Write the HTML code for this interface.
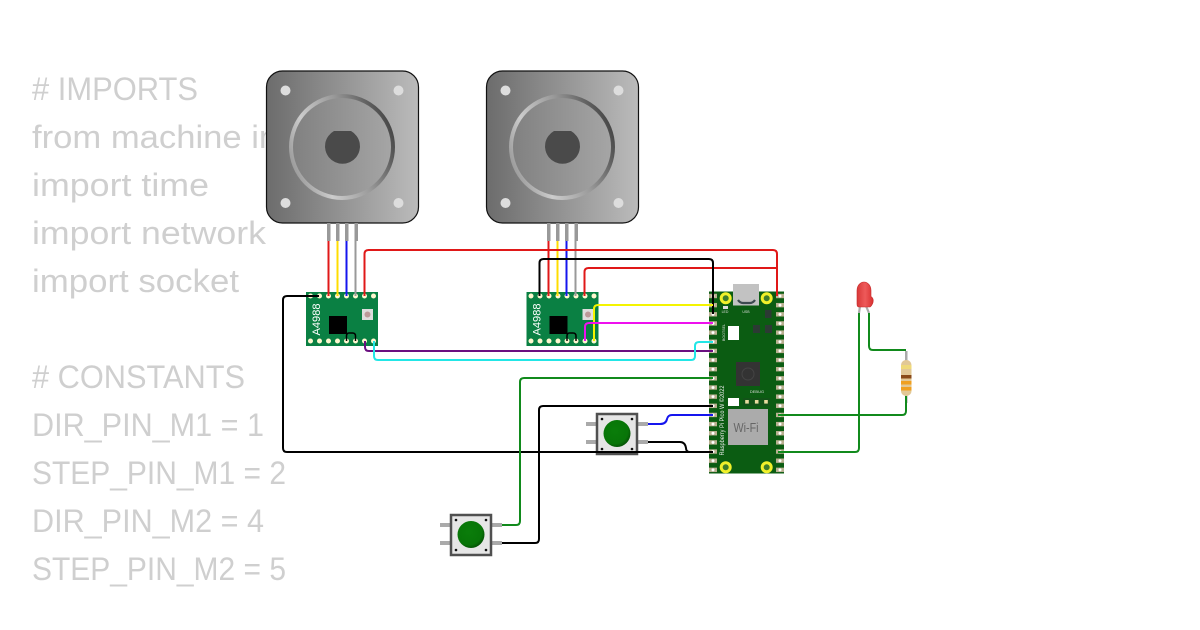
<!DOCTYPE html>
<html><head><meta charset="utf-8"><style>html,body{margin:0;padding:0;background:#fff}svg{display:block}</style></head><body>
<svg xmlns="http://www.w3.org/2000/svg" width="1200" height="630" viewBox="0 0 1200 630">
<defs>
<linearGradient id="mb" x1="0" x2="1" y1="0" y2="0"><stop offset="0" stop-color="#6c6c6c"/><stop offset="1" stop-color="#bbb"/></linearGradient>
<linearGradient id="ring" x1="0" x2="1" y1="0.7" y2="0.3"><stop offset="0" stop-color="#999"/><stop offset=".25" stop-color="#ccc"/><stop offset=".6" stop-color="#999"/><stop offset="1" stop-color="#444"/></linearGradient>
<linearGradient id="inner" x1="0" x2="1"><stop offset="0" stop-color="#808080"/><stop offset="1" stop-color="#a6a6a6"/></linearGradient>
<radialGradient id="btn" cx=".42" cy=".4" r=".62"><stop offset="0" stop-color="#0a7d0a"/><stop offset=".78" stop-color="#087508"/><stop offset="1" stop-color="#055205"/></radialGradient>
<linearGradient id="led" x1="0" x2="1"><stop offset="0" stop-color="#d83838"/><stop offset=".5" stop-color="#ee5a5a"/><stop offset="1" stop-color="#d83030"/></linearGradient>
<pattern id="padL" patternUnits="userSpaceOnUse" x="709" y="291.400" width="9" height="9.150"><rect x="0" y="2.400" width="8" height="4.400" fill="#b9b090"/><circle cx="4" cy="4.600" r="1.500" fill="#fff"/></pattern>
<pattern id="padR" patternUnits="userSpaceOnUse" x="775" y="291.400" width="9" height="9.150"><rect x="1" y="2.400" width="8" height="4.400" fill="#b9b090"/><circle cx="5" cy="4.600" r="1.500" fill="#fff"/></pattern>
<g id="motor">
<rect x="266.500" y="71" width="152" height="152" rx="16" fill="url(#mb)" stroke="#111" stroke-width="1.200"/>
<circle cx="285.500" cy="90.500" r="5" fill="#ddd"/><circle cx="398.500" cy="90.500" r="5" fill="#ddd"/>
<circle cx="285.500" cy="203" r="5" fill="#ddd"/><circle cx="398.500" cy="203" r="5" fill="#ddd"/>
<circle cx="342" cy="147" r="51" fill="url(#inner)" stroke="url(#ring)" stroke-width="4"/>
<path d="M334 131H351A17.500 17.500 0 1 1 334 131Z" fill="#4a4a4a"/>
<g fill="#999"><rect x="327" y="223" width="3.500" height="18"/><rect x="336" y="223" width="3.500" height="18"/><rect x="345" y="223" width="3.500" height="18"/><rect x="354.500" y="223" width="3.500" height="18"/></g>
</g>
<g id="drv">
<rect x="306" y="292" width="72" height="54" fill="#0a8043"/>
<g fill="#fff7cf"><circle cx="310.500" cy="296" r="2.500"/><circle cx="319.500" cy="296" r="2.500"/><circle cx="328.500" cy="296" r="2.500"/><circle cx="337.500" cy="296" r="2.500"/><circle cx="346.500" cy="296" r="2.500"/><circle cx="355.500" cy="296" r="2.500"/><circle cx="364.500" cy="296" r="2.500"/><circle cx="373.500" cy="296" r="2.500"/>
<circle cx="310.500" cy="341" r="2.500"/><circle cx="319.500" cy="341" r="2.500"/><circle cx="328.500" cy="341" r="2.500"/><circle cx="337.500" cy="341" r="2.500"/><circle cx="346.500" cy="341" r="2.500"/><circle cx="355.500" cy="341" r="2.500"/><circle cx="364.500" cy="341" r="2.500"/><circle cx="373.500" cy="341" r="2.500"/></g>
<rect x="329" y="316" width="18" height="18" fill="#000"/>
<rect x="362" y="309" width="11" height="11" fill="#ddd"/><circle cx="367.500" cy="314.500" r="3" fill="#b99"/>
<text transform="translate(320 335.500) rotate(-90)" font-family="'Liberation Sans',sans-serif" font-size="11" fill="#fff" textLength="32" lengthAdjust="spacingAndGlyphs">A4988</text>
<path d="M346.500 341V336Q346.500 333 349 333H352.500Q355.500 333 355.500 336V341" fill="none" stroke="#000" stroke-width="1.500"/>
</g>
<g id="btnp">
<g fill="#aaa"><rect x="586" y="422" width="10" height="4"/><rect x="586" y="440" width="10" height="4"/><rect x="638" y="422" width="10" height="4"/><rect x="638" y="440" width="10" height="4"/></g>
<rect x="597" y="414" width="40" height="40" fill="#e6e6e6" stroke="#505050" stroke-width="2.500"/>
<g fill="#111"><circle cx="602" cy="419" r="1.300"/><circle cx="632" cy="419" r="1.300"/><circle cx="602" cy="449" r="1.300"/><circle cx="632" cy="449" r="1.300"/></g>
<circle cx="617" cy="433.500" r="13.500" fill="url(#btn)"/>
</g>
</defs>

<g font-family="'Liberation Sans',sans-serif" font-size="32" fill="#cfcfcf" lengthAdjust="spacingAndGlyphs">
<text x="32" y="100" textLength="166" lengthAdjust="spacingAndGlyphs">#&#160;IMPORTS</text>
<text x="32" y="148" textLength="375" lengthAdjust="spacingAndGlyphs">from machine import Pin</text>
<text x="32" y="196" textLength="177" lengthAdjust="spacingAndGlyphs">import time</text>
<text x="32" y="244" textLength="234" lengthAdjust="spacingAndGlyphs">import network</text>
<text x="32" y="292" textLength="207" lengthAdjust="spacingAndGlyphs">import socket</text>
<text x="32" y="388" textLength="213" lengthAdjust="spacingAndGlyphs">#&#160;CONSTANTS</text>
<text x="32" y="436" textLength="232" lengthAdjust="spacingAndGlyphs">DIR_PIN_M1 = 1</text>
<text x="32" y="484" textLength="254" lengthAdjust="spacingAndGlyphs">STEP_PIN_M1 = 2</text>
<text x="32" y="532" textLength="232" lengthAdjust="spacingAndGlyphs">DIR_PIN_M2 = 4</text>
<text x="32" y="580" textLength="254" lengthAdjust="spacingAndGlyphs">STEP_PIN_M2 = 5</text>
</g>

<use href="#motor"/>
<use href="#motor" x="220"/>
<use href="#drv"/>
<use href="#drv" x="220.500"/>

<!-- Pico -->
<rect x="709" y="291.500" width="75" height="182" fill="#0b5c12"/>
<rect x="709" y="291.400" width="9" height="183" fill="url(#padL)"/>
<rect x="775" y="291.400" width="9" height="183" fill="url(#padR)"/>
<rect x="733" y="284" width="26" height="21.500" fill="#c2c2c2"/>
<path d="M738 300q2 3 5 3h7q3 0 5-3" fill="none" stroke="#3d4a50" stroke-width="2.200"/>
<g fill="#3f7d2a" stroke="#f0f02a" stroke-width="3">
<circle cx="725.700" cy="298.300" r="4.500"/><circle cx="766.700" cy="298.300" r="4.500"/>
<circle cx="725.700" cy="467.300" r="4.500"/><circle cx="766.700" cy="467.300" r="4.500"/>
</g>
<rect x="728" y="326" width="11" height="14" fill="#fff"/>
<rect x="723" y="306" width="5" height="3" fill="#ddd"/>
<g fill="#2c3a34"><rect x="765" y="310" width="6.500" height="8"/><rect x="753" y="325" width="7" height="8"/><rect x="765" y="325" width="7" height="8"/></g>
<rect x="736" y="362" width="24" height="24" fill="#333"/><circle cx="748" cy="374" r="6" fill="none" stroke="#444"/>
<rect x="728" y="398" width="11" height="8" fill="#fff"/>
<rect x="743" y="398" width="27" height="8" fill="#333" opacity=".2"/>
<g fill="#e8dca0"><rect x="745.200" y="400" width="3.600" height="3.600"/><rect x="754.900" y="400" width="3.600" height="3.600"/><rect x="764.200" y="400" width="3.600" height="3.600"/></g>
<rect x="728" y="409" width="40" height="36" fill="#ababab"/>
<g font-family="'Liberation Sans',sans-serif">
<text x="733.500" y="432" font-size="12.500" fill="#666" textLength="25" lengthAdjust="spacingAndGlyphs">Wi-Fi</text>
<text x="757" y="393" font-size="4" fill="#ddd" text-anchor="middle">DEBUG</text>
<text x="725" y="313" font-size="3.500" fill="#ddd" text-anchor="middle">LED</text>
<text x="746" y="313" font-size="3.500" fill="#ddd" text-anchor="middle">USB</text>
<text transform="translate(725 341) rotate(-90)" font-size="3.500" fill="#ddd" textLength="17">BOOTSEL</text>
<text transform="translate(724 455.500) rotate(-90)" font-size="6" fill="#eee" textLength="70" lengthAdjust="spacingAndGlyphs">Raspberry Pi Pico W ©2022</text>
</g>

<!-- Resistor -->
<rect x="905" y="351" width="2.500" height="52" fill="#aaa"/>
<rect x="901" y="360" width="10.500" height="36" rx="5" fill="#e2c896"/>
<rect x="901" y="365" width="10.500" height="4" fill="#efd97a"/>
<rect x="901" y="375" width="10.500" height="3.500" fill="#8a4a18"/>
<rect x="901" y="381" width="10.500" height="3.500" fill="#f0a020"/>
<rect x="901" y="387" width="10.500" height="3.500" fill="#f0a020"/>

<!-- LED -->
<path d="M860 306l-1 7" stroke="#aaa" stroke-width="2.200" fill="none"/>
<path d="M866 306l3 7" stroke="#aaa" stroke-width="2.200" fill="none"/>
<path d="M857 290.500a7 8.500 0 0 1 14 0v6q3 2 2 6q-1 3-3 4.500h-11q-2 0-2-3z" fill="url(#led)" stroke="#c52a2a" stroke-width=".6"/>

<use href="#btnp"/>
<use href="#btnp" x="-146" y="101"/>

<g fill="none" stroke-width="2" stroke-linejoin="round">
<path d="M328.500 241V296" stroke="#e01818"/>
<path d="M337.500 241V296" stroke="#ffdd00"/>
<path d="M346.500 241V296" stroke="#1515ee"/>
<path d="M355.500 241V296" stroke="#999"/>
<path d="M548.500 241V296" stroke="#e01818"/>
<path d="M557.500 241V296" stroke="#ffdd00"/>
<path d="M566.500 241V296" stroke="#1515ee"/>
<path d="M575.500 241V296" stroke="#999"/>
<path d="M364.500 296V254Q364.500 250 368.500 250H773Q777 250 777 254V296" stroke="#e01818"/>
<path d="M584.500 296V272Q584.500 268 588.500 268H777" stroke="#e01818"/>
<path d="M539.500 296V263Q539.500 259 543.500 259H709Q713 259 713 263V314" stroke="#000"/>
<path d="M594 341V309Q594 305 598 305H713" stroke="#f4f400"/>
<path d="M585 341V327Q585 323 589 323H713" stroke="#ee10ee"/>
<path d="M365 341V347Q365 351 369 351H713" stroke="#6a0f80"/>
<path d="M374 341V356Q374 360 378 360H691Q695 360 695 356V346Q695 342 699 342H713" stroke="#22e6e6"/>
<path d="M319 296H287Q283 296 283 300V448Q283 452 287 452H713" stroke="#000"/>
<path d="M502 525H516Q520 525 520 521V382Q520 378 524 378H713" stroke="#118a1c"/>
<path d="M502 543H535Q539 543 539 539V410Q539 406 543 406H713" stroke="#000"/>
<path d="M648 424H660Q666 424 667 419Q668 415 672 415H713" stroke="#1515ee"/>
<path d="M648 442H680Q685 442 686 448Q686 452 690 452H713" stroke="#000"/>
<path d="M778 415H902Q906 415 906 411V396" stroke="#118a1c"/>
<path d="M778 452H855Q859 452 859 448V313" stroke="#118a1c"/>
<path d="M869 313V346Q869 350 873 350H906" stroke="#118a1c"/>
</g>
</svg>
</body></html>
